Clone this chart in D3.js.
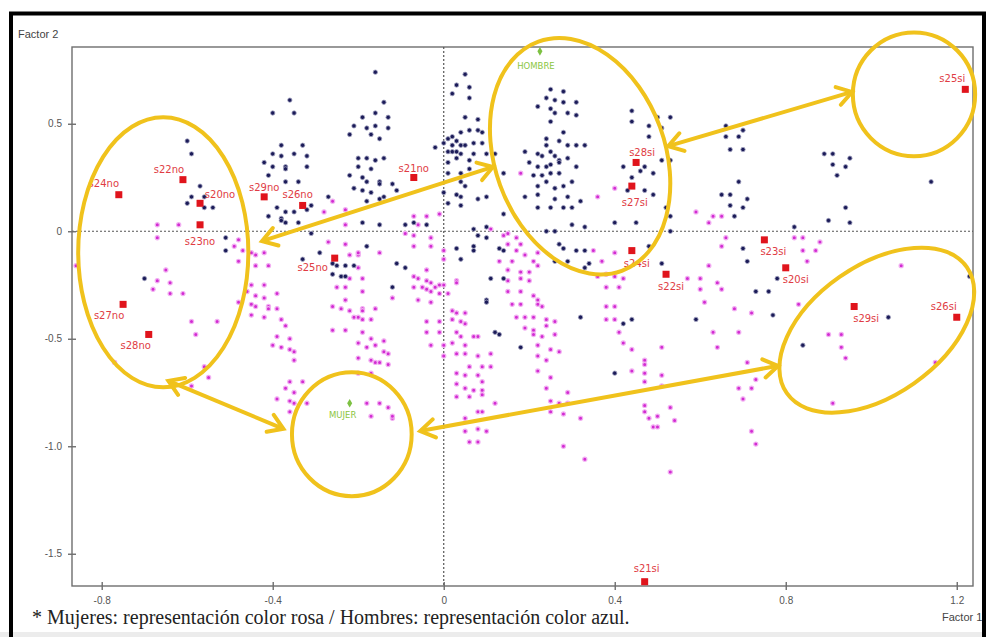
<!DOCTYPE html>
<html>
<head>
<meta charset="utf-8">
<script src="https://cdnjs.cloudflare.com/ajax/libs/d3/7.8.5/d3.min.js"></script>
<style>
body{margin:0;background:#fff;}
svg{display:block;}
.axis text{font-family:"Liberation Sans",Arial,sans-serif;font-size:10px;fill:#555;}
.axis path,.axis line{stroke:#6e6e6e;stroke-width:1.4px;}
</style>
</head>
<body>
<div id="chart"></div>
<script>
// ticks
var factor1Ticks=[-0.8,-0.4,0,0.4,0.8,1.2];
var factor2Ticks=[-1.5,-1.0,-0.5,0,0.5];

// individuos hombres (azul)  [factor1, factor2]
var hombres=[
[-0.36,0.61],[-0.40,0.55],[-0.35,0.55],[-0.60,0.42],[-0.59,0.36],[-0.38,0.40],[-0.33,0.40],[-0.40,0.36],[-0.38,0.35],[-0.35,0.36],
[-0.32,0.35],[-0.42,0.32],[-0.40,0.30],[-0.37,0.30],[-0.37,0.29],[-0.32,0.30],[-0.41,0.26],[-0.37,0.23],[-0.34,0.23],[-0.57,0.21],
[-0.59,0.16],[-0.56,0.16],[-0.60,0.13],[-0.56,0.11],[-0.54,0.11],[-0.39,0.11],[-0.37,0.09],[-0.35,0.09],[-0.32,0.10],[-0.31,0.12],
[-0.41,0.07],[-0.38,0.06],[-0.27,0.16],[-0.51,-0.03],[-0.51,-0.09],[-0.70,-0.22],[-0.38,0.05],[-0.37,0.04],[-0.34,0.04],[-0.31,-0.01],
[-0.29,-0.10],[-0.33,-0.13],[-0.26,-0.15],[-0.25,-0.16],[-0.23,-0.16],[-0.21,-0.16],[-0.26,-0.20],[-0.24,-0.21],[-0.23,-0.21],
[-0.16,0.74],[0.05,0.73],[0.03,0.68],[0.06,0.67],[0.02,0.64],[0.06,0.62],[-0.14,0.60],[-0.19,0.53],[-0.16,0.55],[-0.13,0.53],
[-0.21,0.49],[-0.18,0.48],[-0.16,0.49],[-0.13,0.48],[-0.22,0.45],[-0.17,0.45],[-0.15,0.43],[0.05,0.53],[0.08,0.52],[0.01,0.43],
[0.02,0.44],[0.04,0.46],[0.06,0.47],[0.08,0.47],[0.09,0.46],[-0.02,0.39],[0.00,0.41],[0.02,0.40],[0.03,0.42],[0.04,0.40],
[0.05,0.40],[0.07,0.41],[0.09,0.41],[0.01,0.37],[0.02,0.37],[0.03,0.37],[0.04,0.36],[0.07,0.36],[0.10,0.36],[0.12,0.36],
[0.01,0.32],[0.03,0.34],[0.06,0.33],[-0.20,0.34],[-0.18,0.34],[-0.16,0.33],[-0.14,0.34],[-0.20,0.30],[-0.17,0.29],[-0.22,0.26],
[-0.19,0.25],[-0.18,0.23],[-0.15,0.23],[-0.15,0.22],[-0.21,0.20],[-0.19,0.19],[-0.17,0.18],[-0.14,0.16],[-0.11,0.19],[-0.18,0.14],
[-0.15,0.15],[-0.12,0.22],[0.01,0.27],[0.04,0.27],[0.06,0.29],[0.04,0.23],[0.05,0.21],[0.00,0.18],[0.03,0.17],[0.04,0.16],
[0.01,0.13],[0.04,0.12],[0.08,0.15],[0.10,0.16],[0.14,0.27],[0.14,0.08],
[0.25,0.66],[0.28,0.65],[0.24,0.62],[0.26,0.61],[0.28,0.60],[0.31,0.60],[0.22,0.58],[0.25,0.57],[0.26,0.55],[0.29,0.55],
[0.31,0.54],[0.25,0.51],[0.28,0.46],[0.24,0.43],[0.27,0.42],[0.24,0.40],[0.29,0.40],[0.31,0.40],[0.33,0.40],[0.19,0.37],
[0.22,0.36],[0.23,0.35],[0.25,0.37],[0.26,0.35],[0.27,0.33],[0.29,0.34],[0.20,0.32],[0.22,0.30],[0.24,0.30],[0.25,0.31],
[0.27,0.32],[0.31,0.30],[0.23,0.26],[0.25,0.27],[0.27,0.27],[0.30,0.23],[0.21,0.26],[0.22,0.21],[0.24,0.23],[0.26,0.20],
[0.28,0.21],[0.19,0.16],[0.22,0.17],[0.26,0.15],[0.29,0.16],[0.32,0.14],[0.22,0.11],[0.25,0.11],[0.28,0.11],[0.30,0.11],
[0.44,0.56],[0.44,0.51],[0.48,0.49],[0.48,0.44],[0.50,0.53],[0.42,0.30],[0.44,0.25],[0.46,0.28],[0.47,0.30],[0.49,0.27],
[0.43,0.19],[0.47,0.19],[0.49,0.17],
[0.53,0.53],[0.51,0.48],[0.66,0.49],[0.70,0.47],[0.66,0.44],[0.69,0.44],[0.67,0.38],[0.70,0.38],[0.89,0.36],[0.91,0.36],
[0.95,0.34],[0.91,0.31],[0.94,0.30],[0.92,0.26],[0.69,0.23],[1.14,0.23],[0.65,0.17],[0.67,0.17],[0.71,0.15],[0.67,0.12],
[0.70,0.11],[0.94,0.11],[0.68,0.07],[0.51,0.33],[0.53,0.33],[0.52,0.11],[0.53,0.07],
[-0.19,0.04],[-0.15,0.03],[-0.09,0.03],[-0.07,0.04],[-0.04,0.03],[-0.18,-0.07],[-0.11,-0.15],[-0.09,-0.17],[-0.12,-0.26],
[0.07,0.01],[0.10,0.02],[0.08,-0.02],[0.10,-0.03],[0.03,-0.08],[0.07,-0.07],[0.07,-0.09],[0.04,-0.13],[0.13,-0.08],[0.14,-0.09],
[0.11,-0.22],[0.14,-0.22],[0.10,-0.32],[0.10,-0.33],[0.12,-0.47],[0.13,-0.48],[0.18,-0.54],
[0.24,0.00],[0.26,0.00],[0.27,-0.06],[0.28,-0.08],[0.31,-0.09],[0.33,-0.09],[0.26,-0.14],[0.29,-0.14],[0.33,-0.17],[0.34,-0.15],
[0.30,0.03],[0.33,0.02],[0.40,0.04],[0.45,0.04],[0.48,-0.07],[0.32,-0.40],[0.42,-0.43],[0.44,-0.41],[0.40,-0.66],
[0.53,0.00],[0.82,0.02],[0.95,0.04],[0.90,0.05],[0.71,-0.14],[0.70,-0.08],[0.51,-0.15],[0.78,-0.22],[0.73,-0.28],[0.76,-0.28],
[0.59,-0.41],[0.77,-0.39],[0.84,-0.53],[1.04,-0.40],[1.23,-0.21]
];

// individuos mujeres (rosa)  [factor1, factor2]
var mujeres=[
[-0.28,0.09],[-0.26,0.14],[-0.23,0.10],[-0.07,0.07],[-0.04,0.07],[-0.01,0.08],[0.18,0.27],[0.36,0.16],[0.40,0.20],[0.59,0.09],
[0.63,0.07],[0.65,0.07],
[-0.67,0.03],[-0.62,0.03],[-0.67,-0.03],[-0.48,-0.04],[-0.49,-0.07],[-0.47,-0.09],[-0.45,-0.10],[-0.44,-0.11],[-0.42,-0.10],
[-0.48,-0.14],[-0.44,-0.16],[-0.41,-0.16],[-0.86,-0.16],[-0.65,-0.18],[-0.67,-0.23],[-0.64,-0.24],[-0.68,-0.27],[-0.64,-0.29],
[-0.61,-0.29],[-0.45,-0.25],[-0.42,-0.25],[-0.46,-0.28],[-0.44,-0.30],[-0.42,-0.31],[-0.39,-0.29],[-0.48,-0.33],[-0.45,-0.34],
[-0.44,-0.35],[-0.41,-0.35],[-0.41,-0.36],[-0.39,-0.36],[-0.45,-0.39],[-0.42,-0.40],[-0.38,-0.41],[-0.37,-0.44],[-0.59,-0.42],
[-0.53,-0.42],[-0.58,-0.48],[-0.39,-0.49],[-0.36,-0.50],[-0.40,-0.53],[-0.38,-0.54],[-0.36,-0.55],[-0.35,-0.56],[-0.35,-0.60],
[-0.77,-0.61],[-0.56,-0.63],[-0.55,-0.68],[-0.59,-0.72],[-0.36,-0.70],[-0.33,-0.70],[-0.37,-0.73],[-0.35,-0.75],[-0.39,-0.78],
[-0.36,-0.79],[-0.35,-0.80],[-0.36,-0.84],[-0.32,-0.80],
[-0.27,-0.05],[-0.23,-0.06],[-0.23,0.03],[-0.09,-0.01],[-0.06,0.03],[-0.07,-0.02],[-0.07,-0.07],[-0.03,-0.03],[-0.03,-0.07],
[-0.15,-0.10],[-0.22,-0.11],[-0.20,-0.11],[-0.20,-0.10],[-0.20,-0.17],[-0.22,-0.22],[-0.19,-0.22],[-0.25,-0.26],[-0.23,-0.26],
[-0.19,-0.28],[-0.23,-0.32],[-0.26,-0.35],[-0.24,-0.36],[-0.22,-0.37],[-0.19,-0.36],[-0.19,-0.37],[-0.16,-0.36],[-0.20,-0.40],
[-0.21,-0.40],[-0.19,-0.41],[-0.17,-0.41],[-0.26,-0.46],[-0.23,-0.46],[-0.19,-0.47],[-0.17,-0.50],[-0.20,-0.52],[-0.18,-0.54],
[-0.16,-0.53],[-0.14,-0.51],[-0.20,-0.59],[-0.17,-0.60],[-0.16,-0.61],[-0.15,-0.61],[-0.14,-0.56],[-0.13,-0.57],[-0.20,-0.66],
[-0.17,-0.66],[-0.13,-0.62],[-0.18,-0.80],[-0.15,-0.80],[-0.13,-0.82],[-0.17,-0.86],[-0.12,-0.87],[-0.12,-0.86],[-0.12,-0.31],
[-0.07,-0.21],[-0.06,-0.22],[-0.04,-0.23],[-0.03,-0.24],[-0.05,-0.26],[-0.04,-0.27],[-0.02,-0.26],[-0.01,-0.25],[0.00,-0.25],
[-0.07,-0.26],[-0.03,-0.28],[-0.01,-0.29],[0.01,-0.29],[-0.06,-0.32],[-0.03,-0.33],[-0.04,-0.18],[-0.04,-0.42],[-0.01,-0.42],
[-0.04,-0.47],[-0.01,-0.47],[-0.03,-0.53],[0.00,-0.53],[0.00,-0.58],[0.00,-0.09],[0.00,-0.13],[0.03,-0.23],[0.03,-0.24],
[0.02,-0.37],[0.03,-0.38],[0.05,-0.38],[0.02,-0.41],[0.04,-0.42],[0.05,-0.43],[0.03,-0.47],[0.04,-0.49],[0.07,-0.49],[0.08,-0.49],
[0.02,-0.52],[0.05,-0.53],[0.03,-0.57],[0.05,-0.57],[0.08,-0.58],[0.06,-0.63],[0.09,-0.63],[0.03,-0.66],[0.05,-0.67],[0.08,-0.67],
[0.09,-0.70],[0.03,-0.71],[0.05,-0.73],[0.07,-0.74],[0.09,-0.74],[0.03,-0.77],[0.06,-0.77],[0.09,-0.76],[0.12,-0.80],[0.05,-0.87],
[0.08,-0.84],[0.08,-0.92],[0.10,-0.93],[0.05,-0.93],[0.06,-0.98],[0.08,-0.98],[0.11,-0.57],[0.11,-0.63],[0.09,-0.84],
[0.11,0.01],[0.14,-0.02],[0.15,-0.01],[0.17,-0.03],[0.18,-0.06],[0.15,-0.06],[0.17,-0.09],[0.19,-0.11],[0.22,-0.10],[0.21,-0.14],
[0.22,-0.16],[0.16,-0.14],[0.13,-0.14],[0.15,-0.18],[0.18,-0.19],[0.20,-0.19],[0.15,-0.23],[0.18,-0.22],[0.20,-0.23],[0.15,-0.28],
[0.18,-0.28],[0.21,-0.30],[0.22,-0.32],[0.16,-0.34],[0.18,-0.34],[0.22,-0.34],[0.23,-0.35],[0.17,-0.40],[0.19,-0.40],[0.21,-0.40],
[0.24,-0.41],[0.26,-0.42],[0.19,-0.45],[0.21,-0.46],[0.24,-0.44],[0.21,-0.48],[0.23,-0.49],[0.26,-0.48],[0.22,-0.53],[0.25,-0.55],
[0.27,-0.56],[0.22,-0.58],[0.24,-0.60],[0.22,-0.65],[0.25,-0.68],[0.24,-0.73],[0.25,-0.79],[0.27,-0.80],[0.29,-0.80],[0.29,-0.75],
[0.25,-0.84],[0.28,-0.85],[0.32,-0.87],[0.28,-1.00],[0.33,-1.06],
[0.35,-0.09],[0.37,-0.14],[0.40,-0.10],[0.36,-0.21],[0.38,-0.20],[0.40,-0.21],[0.42,-0.22],[0.38,-0.26],[0.41,-0.26],[0.38,-0.35],
[0.40,-0.35],[0.38,-0.41],[0.40,-0.41],[0.42,-0.52],[0.44,-0.55],[0.47,-0.60],[0.47,-0.62],[0.41,-0.47],[0.44,-0.65],[0.47,-0.66],
[0.47,-0.70],[0.47,-0.84],[0.48,-0.87],[0.49,-0.91],[0.47,-0.81],[0.50,-0.86],[0.50,-0.91],
[0.62,0.04],[0.66,-0.03],[0.65,-0.07],[0.82,-0.03],[0.84,-0.03],[0.88,-0.05],[0.87,-0.09],[0.84,-0.09],[0.85,-0.14],[0.62,-0.16],
[0.57,-0.22],[0.60,-0.22],[0.64,-0.24],[0.65,-0.27],[0.60,-0.27],[0.61,-0.33],[0.68,-0.36],[0.72,-0.38],[0.83,-0.34],[0.63,-0.47],
[0.69,-0.47],[0.64,-0.54],[0.71,-0.61],[0.73,-0.69],[0.69,-0.73],[0.72,-0.73],[0.70,-0.78],[0.53,-0.82],[0.54,-0.88],[0.72,-0.93],
[0.51,-0.54],[0.51,-0.67],[0.51,-0.72],[1.07,-0.16],[0.90,-0.48],[0.93,-0.48],[0.93,-0.54],[0.94,-0.59],[1.15,-0.61],[0.91,-0.80],
[0.53,-1.12],[0.73,-0.99]
];

// modalidades (cuadrados rojos)
var modalNames=["s24no","s22no","s20no","s23no","s29no","s26no","s21no","s25no","s27no","s28no",
  "s28si","s27si","s25si","s24si","s22si","s23si","s20si","s29si","s26si","s21si"];
var modalValues=[[-0.76,0.17],[-0.61,0.24],[-0.57,0.13],[-0.57,0.03],[-0.42,0.16],[-0.33,0.12],[-0.07,0.25],[-0.255,-0.125],[-0.75,-0.34],[-0.69,-0.48],
  [0.45,0.32],[0.44,0.21],[1.22,0.66],[0.44,-0.09],[0.52,-0.20],[0.75,-0.04],[0.80,-0.17],[0.96,-0.35],[1.20,-0.40],[0.47,-1.63]];
// label offsets in px (layout only)
var modalLabelOffsets=[[-15,-8],[-14,-7],[20,-5],[0,20],[0,-6],[-5,-7],[0,-6],[-22,13],[-14,15],[-13,15],
  [6,-6],[3,20],[-13,-7],[5,16],[5,16],[9,15],[10,15],[12,15],[-13,-7],[2,-10]];

// sexo (rombos verdes)
var genderNames=["HOMBRE","MUJER"];
var genderValues=[[0.225,0.837],[-0.22,-0.80]];
var genderLabelOffsets=[[-4,18],[-7,15]];

// anotaciones amarillas (unidades de los factores)
var highlightEllipses=[
  {cx:-0.656,cy:-0.098,rx:0.199,ry:0.628,rot:0},
  {cx:0.319,cy:0.349,rx:0.199,ry:0.567,rot:-20},
  {cx:1.100,cy:0.637,rx:0.143,ry:0.288,rot:0},
  {cx:1.013,cy:-0.460,rx:0.257,ry:0.302,rot:-35},
  {cx:-0.215,cy:-0.944,rx:0.140,ry:0.288,rot:0}
];
var highlightArrows=[
  [[-0.425,-0.046],[0.115,0.299]],
  [[0.525,0.396],[0.955,0.648]],
  [[-0.644,-0.696],[-0.375,-0.919]],
  [[-0.055,-0.929],[0.782,-0.626]]
];

var W=986, H=637;
var plot={left:72, right:973, top:47, bottom:586};
var yellow="#f0c21c";

var svg=d3.select("#chart").append("svg")
  .attr("width",W).attr("height",H);

var x=d3.scaleLinear().domain([-0.8695,1.238]).range([plot.left,plot.right]);
var y=d3.scaleLinear().domain([-1.65,0.857]).range([plot.bottom,plot.top]);

// bottom gray strip
svg.append("rect").attr("x",0).attr("y",632).attr("width",W).attr("height",5).style("fill","#ececec");

// frame
svg.append("rect")
  .attr("x",plot.left).attr("y",plot.top)
  .attr("width",plot.right-plot.left).attr("height",plot.bottom-plot.top)
  .style("fill","none").style("stroke","#6e6e6e").style("stroke-width",1.4);

// zero lines
svg.append("line")
  .attr("x1",x(0)).attr("x2",x(0)).attr("y1",plot.top).attr("y2",plot.bottom)
  .style("stroke","#555").style("stroke-dasharray","2,2").style("stroke-width",1.2);
svg.append("line")
  .attr("x1",plot.left).attr("x2",plot.right).attr("y1",y(0)).attr("y2",y(0))
  .style("stroke","#555").style("stroke-dasharray","2,2").style("stroke-width",1.2);

// axes
function tickFmt(d){ return d===0 ? "0" : d.toFixed(1); }
var xAxis=d3.axisBottom(x).tickValues(factor1Ticks).tickSize(4).tickSizeOuter(0).tickPadding(7).tickFormat(tickFmt);
var yAxis=d3.axisLeft(y).tickValues(factor2Ticks).tickSize(4).tickSizeOuter(0).tickPadding(6).tickFormat(tickFmt);

var gx=svg.append("g").attr("class","axis").attr("transform","translate(0,"+plot.bottom+")").call(xAxis);
gx.selectAll(".tick line").attr("y1",-4);
gx.select(".domain").remove();
var gy=svg.append("g").attr("class","axis").attr("transform","translate("+plot.left+",0)").call(yAxis);
gy.selectAll(".tick line").attr("x1",4);
gy.select(".domain").remove();

svg.append("text").attr("x",18).attr("y",38)
  .style("font-family","'Liberation Sans',Arial,sans-serif").style("font-size","11px").style("fill","#444")
  .text("Factor 2");
svg.append("text").attr("x",942).attr("y",621)
  .style("font-family","'Liberation Sans',Arial,sans-serif").style("font-size","11px").style("fill","#444")
  .text("Factor 1");

// points
svg.append("g").selectAll("circle").data(mujeres).enter().append("circle")
  .attr("cx",function(d){ return x(d[0]); })
  .attr("cy",function(d){ return y(d[1]); })
  .attr("r",2.1)
  .style("fill","#d22cd2").style("stroke","#f2b0f2").style("stroke-width",1.2);

svg.append("g").selectAll("circle").data(hombres).enter().append("circle")
  .attr("cx",function(d){ return x(d[0]); })
  .attr("cy",function(d){ return y(d[1]); })
  .attr("r",2.2)
  .style("fill","#1b1b58").style("stroke","#a8a8c4").style("stroke-width",0.8);

// modalidades
var gm=svg.append("g");
gm.selectAll("rect").data(modalValues).enter().append("rect")
  .attr("x",function(d){ return x(d[0])-3.5; })
  .attr("y",function(d){ return y(d[1])-3.5; })
  .attr("width",7).attr("height",7)
  .style("fill","#e0141c");
gm.selectAll("text").data(modalValues).enter().append("text")
  .attr("x",function(d,i){ return x(d[0])+modalLabelOffsets[i][0]; })
  .attr("y",function(d,i){ return y(d[1])+modalLabelOffsets[i][1]; })
  .attr("text-anchor","middle")
  .style("font-family","Tahoma,'DejaVu Sans',sans-serif").style("font-size","10px").style("fill","#e03c44")
  .text(function(d,i){ return modalNames[i]; });

// sexo
var gg=svg.append("g");
gg.selectAll("path").data(genderValues).enter().append("path")
  .attr("d",d3.symbol().type(d3.symbolDiamond).size(22))
  .attr("transform",function(d){ return "translate("+x(d[0])+","+y(d[1])+")"; })
  .style("fill","#7dc142");
gg.selectAll("text").data(genderValues).enter().append("text")
  .attr("x",function(d,i){ return x(d[0])+genderLabelOffsets[i][0]; })
  .attr("y",function(d,i){ return y(d[1])+genderLabelOffsets[i][1]; })
  .attr("text-anchor","middle")
  .style("font-family","'DejaVu Sans',sans-serif").style("font-size","8.5px").style("fill","#8cc63f")
  .text(function(d,i){ return genderNames[i]; });

// yellow annotations
var kx=x(1)-x(0), ky=y(0)-y(1);
svg.append("g").selectAll("ellipse").data(highlightEllipses).enter().append("ellipse")
  .attr("transform",function(d){ return "translate("+x(d.cx)+","+y(d.cy)+") rotate("+d.rot+")"; })
  .attr("rx",function(d){ return d.rx*kx; })
  .attr("ry",function(d){ return d.ry*ky; })
  .style("fill","none").style("stroke",yellow).style("stroke-width",4);

function chevron(px,py,ux,uy,len){
  var a=Math.PI/5.5;
  var c=Math.cos(a), s=Math.sin(a);
  var b1x=px-len*(ux*c-uy*s), b1y=py-len*(ux*s+uy*c);
  var b2x=px-len*(ux*c+uy*s), b2y=py-len*(-ux*s+uy*c);
  return "M"+b1x+","+b1y+"L"+px+","+py+"L"+b2x+","+b2y;
}
var ga=svg.append("g");
highlightArrows.forEach(function(a){
  var x1=x(a[0][0]), y1=y(a[0][1]), x2=x(a[1][0]), y2=y(a[1][1]);
  var L=Math.sqrt((x2-x1)*(x2-x1)+(y2-y1)*(y2-y1));
  var ux=(x2-x1)/L, uy=(y2-y1)/L;
  ga.append("line").attr("x1",x1).attr("y1",y1).attr("x2",x2).attr("y2",y2)
    .style("stroke",yellow).style("stroke-width",4);
  ga.append("path").attr("d",chevron(x2,y2,ux,uy,17)+chevron(x1,y1,-ux,-uy,17))
    .style("fill","none").style("stroke",yellow).style("stroke-width",4)
    .style("stroke-linejoin","miter").style("stroke-linecap","round");
});

// caption
svg.append("text").attr("x",32).attr("y",624)
  .style("font-family","'Liberation Serif','Times New Roman',serif").style("font-size","20px").style("fill","#222")
  .text("* Mujeres: representación color rosa / Hombres: representación color azul.");

// outer black border
svg.append("path")
  .attr("d","M11,"+H+"L11,13.5L984,13.5L984,"+H)
  .style("fill","none").style("stroke","#000").style("stroke-width",4);
</script>
</body>
</html>
